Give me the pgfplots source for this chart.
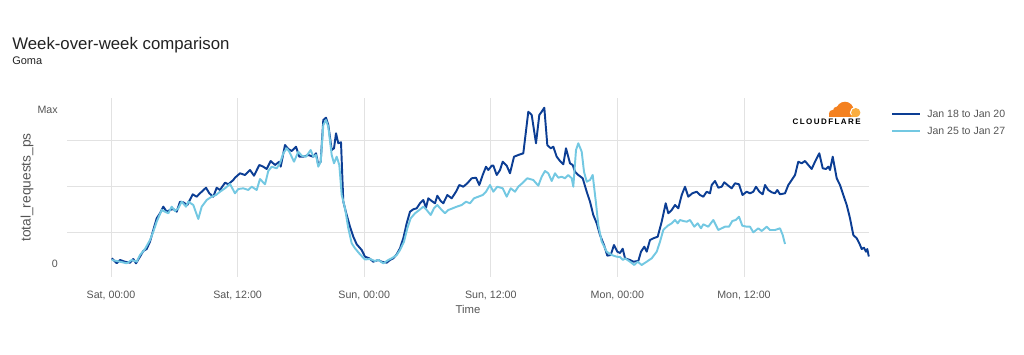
\documentclass[border=0pt]{standalone}
\usepackage{pgfplots}
\pgfplotsset{compat=1.18}
\usepackage{fontspec}
\setmainfont{Liberation Sans}
\newfontfamily\cffont[LetterSpace=18]{Liberation Sans}
\definecolor{darkline}{RGB}{12,62,148}
\definecolor{lightline}{RGB}{115,200,226}
\definecolor{gridgray}{RGB}{226,226,226}
\definecolor{labelgray}{RGB}{85,85,85}
\definecolor{titlegray}{RGB}{34,34,34}
\definecolor{cforange}{RGB}{244,129,32}
\definecolor{cflight}{RGB}{250,173,63}
\begin{document}
\begin{tikzpicture}
\useasboundingbox (0pt,0pt) rectangle (768pt,265.5pt);
\begin{axis}[
  at={(50.25pt,57.75pt)}, anchor=south west,
  scale only axis, width=601.5pt, height=134.25pt,
  xmin=67, xmax=869, ymin=-13, ymax=166,
  axis line style={draw=none}, tick style={draw=none},
  /pgf/number format/assume math mode=true,
  xtick={111,237.6,364.2,490.8,617.4,744},
  xticklabels={{Sat, 00:00},{Sat, 12:00},{Sun, 00:00},{Sun, 12:00},{Mon, 00:00},{Mon, 12:00}},
  ytick={0,154}, yticklabels={0,Max},
  extra y ticks={31.7,77.3,124}, extra y tick labels={},
  extra y tick style={ymajorgrids=true},
  xmajorgrids, ymajorgrids=false,
  grid style={color=gridgray, line width=0.7pt},
  xticklabel style={font=\fontsize{8}{9}\selectfont, text=labelgray, anchor=center, yshift=-13.5pt},
  yticklabel style={font=\fontsize{8}{9}\selectfont, text=labelgray, anchor=east, inner sep=0pt, xshift=-6.75pt},
  xlabel={Time}, ylabel={total\_requests\_ps},
  xlabel style={font=\fontsize{8.5}{10}\selectfont, text=labelgray, at={(axis description cs:0.5,0)}, anchor=center, yshift=-24pt},
  ylabel style={font=\fontsize{10.3}{12}\selectfont, text=labelgray, at={(axis description cs:-0.0499,0.5)}, anchor=center, rotate=0},
  clip=false,
]
\addplot[color=darkline, line width=1.45pt, line join=round] coordinates {
(111.7,5.7)(116.7,0.7)(120,4)(125,2.3)(130,1.3)(133.3,5)(136,0.7)(140,7.3)(143.3,13)(146.7,15)(150,22.3)(153.3,34)(156.7,45.7)(160,50.7)(163.3,57.3)(166.7,52.3)(170,54)(173.3,55)(176.7,52.3)(180,62.3)(183.3,61.7)(187.3,59)(192.7,69.7)(196.7,67.3)(200,70.7)(206,76.3)(209.3,70.7)(213.3,67.3)(216.7,76.3)(220,74)(225,81.3)(228.3,79.7)(233.3,84)(235,86.3)(240,90.7)(245,89)(250,94)(254,88.3)(259.3,99)(263.3,97.3)(266.7,95)(270.7,103)(275,99)(279.3,102.3)(280.7,97.3)(285,119)(288.3,115)(291.7,113)(296,117.3)(299.3,107.3)(303.3,107.3)(308.3,109)(313.3,107.3)(316,110.7)(318.3,99)(320.7,102.3)(323.3,144)(326,146.3)(328.3,139)(331.7,114)(334,115.7)(336,130.7)(338.3,120.7)(341,121.7)(343.3,62.3)(346.7,49)(350,37.3)(353.3,27.3)(356.7,19.7)(361.7,14)(365,7.3)(369.3,5.7)(373.3,2.3)(378.3,4)(381.7,2.3)(386.7,1.3)(390,4)(393.3,5.7)(396.7,9.7)(400,15.7)(403.3,25.7)(406.7,40.7)(410,52.3)(413.3,54.7)(416.7,55.7)(420,60.7)(423.3,64)(426,56.3)(428.3,65.7)(431.7,63)(435,60.7)(437.3,68.3)(440.7,63)(443.3,60.7)(447.3,69)(451.7,65.7)(456,72.3)(459.3,79)(463.3,77.3)(467.3,80.7)(471.7,85.7)(476,86.3)(479.3,79)(482.7,89)(486,97.3)(488.3,94)(491.7,98.3)(493.3,98.5)(496.7,89)(500,94)(502.7,102.3)(506.7,98.3)(510,90.7)(514,107.3)(518.3,109)(523.3,110.7)(528.3,152.3)(531.7,149)(536,120.7)(539.3,149)(541.7,152.3)(544.3,156.3)(547.3,119)(550.7,115.7)(553.3,117.3)(556.7,107.3)(560,103)(563.3,99.7)(566,115.7)(570,100.7)(572.7,99)(575,92.3)(578.3,89)(582.7,85.7)(586.7,72.3)(590,62.3)(593.3,49)(596.7,40.7)(600,29)(604,19)(607.3,8.3)(610.7,9)(614,19)(617.3,12.3)(620,11)(622.7,15.3)(625,5.7)(630,4)(633.3,2.3)(638.3,3)(641,12.3)(644.3,17.3)(646.7,12.3)(650,24)(653.3,25.7)(657.7,27.3)(661.7,42.3)(665.7,60.7)(668.3,50.7)(671.7,54)(675,59)(678.3,55.7)(681.7,69)(685,77.3)(688.3,67.3)(692.3,70.7)(696.7,72.3)(700,69)(703.3,67.3)(706.7,72.3)(710,70.7)(711.7,79)(715,83)(718.3,76.3)(721.7,77.3)(724.3,81.7)(728.3,78.3)(731.7,75.7)(735,80.7)(739,79.7)(742.5,69)(746.7,72.3)(750,70.7)(753.3,72.3)(756,77.3)(759.3,72.3)(762.7,69.7)(765,79)(768.3,74)(771.7,71.7)(775,70.7)(777.3,74)(780,69.7)(785,70.7)(788.3,79)(791.7,84)(795,89)(798.3,102.3)(801.7,100.7)(805,103)(808.3,99)(811.7,95)(815,102.3)(819.3,110.7)(822.7,95.7)(826,95)(828.3,97.3)(830,94)(832.7,107.3)(836.7,85.7)(840,79)(843.3,69)(846.7,59)(850,45.7)(853.3,29)(856.7,25.7)(859.3,20.7)(861.7,15)(864,16.3)(866,12.3)(867.3,15)(868.8,7.5)
};
\addplot[color=lightline, line width=1.45pt, line join=round] coordinates {
(111.7,4)(116.7,3)(120,2.3)(126.7,0.7)(131.7,4)(136.7,2.3)(140,9)(145,15)(150,24)(153.3,32.3)(156.7,42.3)(161.7,54)(165,52.3)(168.3,50.7)(171.7,57.3)(175,53)(178.3,55.7)(181.7,62.3)(186,57.3)(188.3,62.3)(193.3,59)(198.3,45)(201.7,57.3)(206.7,64)(211.7,67.3)(216,69)(220,72.3)(225,75.7)(230,80)(235,70.7)(238.3,75)(243.3,75.7)(248.3,74)(251.7,77.3)(256.7,74)(260,85)(265,79.7)(268.3,93)(271.7,97.3)(276.7,95.7)(280,100.7)(283.3,110.7)(286.7,115.7)(289.3,112.3)(294,102.3)(298.3,112.3)(301.7,108.3)(306,107.3)(310.7,114)(313.3,107.3)(316,109)(318.3,97.3)(320.7,102.3)(323.3,139)(326,144)(328.3,137.3)(331.7,109)(334,100.7)(336.7,107.3)(339.3,99)(341.7,69)(345,55.7)(348.3,35.7)(351.7,20.7)(355,15.7)(360,9.7)(365,4.5)(370,5)(375,3)(378.3,4)(383.3,0.7)(388.3,4)(391.7,5.7)(396.7,9)(400,14)(404,22.3)(407.3,35.7)(410.7,45.7)(415,50.7)(419.3,54)(423.3,57.3)(426.7,54)(430.7,49)(434,55.7)(437.3,59)(441.7,54)(445,50.7)(448.3,54)(452.7,55.7)(456.7,57.3)(461.7,59)(466,62.3)(470,60.7)(474,65.7)(478.3,67.3)(482.7,69)(486,72.3)(490,79)(493.3,72.3)(497.3,77.3)(502.7,75.7)(506.7,67.3)(510.7,75.7)(515,72.3)(518.3,77.3)(523.3,81.7)(527.3,85.7)(533.3,84)(538.3,78.3)(541.7,87.3)(545,93)(548.3,90.7)(551.7,83)(555,90.7)(558.3,86.3)(561.7,87.3)(565,85.7)(568.3,89)(571.7,85.7)(573.3,77.3)(576,114)(578.3,120.7)(581.7,112.3)(584,92.3)(586.7,82.3)(590,84)(592.7,89)(596,60.7)(598.3,39)(601.7,22.3)(606.7,12.3)(611.7,9)(616.7,7.3)(620,7)(623,4)(625,5.7)(630,2.3)(634.3,-1)(637.7,2.3)(641.7,-1)(646.7,2.3)(651.7,5.7)(656.7,12.3)(660,22.3)(663.3,34)(667.7,38.3)(671.7,40.7)(675,44)(677.7,40.7)(680,44)(683.3,43)(686.7,42.3)(690,44)(694.3,37.3)(697.7,40.7)(701,35.7)(703.3,39.7)(708.3,37.3)(713.3,44)(718.3,34)(721.7,35.7)(725,37.3)(729,37.3)(732.3,43)(735.7,44)(739,47.3)(742.3,38.3)(746.7,37.3)(750,37.3)(753.3,31.7)(758.3,35.7)(761.7,33)(766.7,37.3)(770,34)(775,34)(780,35.7)(782.7,29)(785,20)
};
\end{axis}
% title and subtitle
\node[anchor=base west, inner sep=0pt, text=titlegray, font=\fontsize{12.6}{14}\selectfont] at (9pt,228.5pt) {Week-over-week comparison};
\node[anchor=base west, inner sep=0pt, text=titlegray, font=\fontsize{8.25}{10}\selectfont] at (9pt,217.3pt) {Goma};
% legend
\draw[darkline, line width=1.45pt] (669pt,180pt) -- (690pt,180pt);
\node[anchor=west, inner sep=0pt, text=labelgray, font=\fontsize{7.9}{9}\selectfont] at (695.25pt,180pt) {Jan 18 to Jan 20};
\draw[lightline, line width=1.45pt] (669pt,167.25pt) -- (690pt,167.25pt);
\node[anchor=west, inner sep=0pt, text=labelgray, font=\fontsize{7.9}{9}\selectfont] at (695.25pt,167.25pt) {Jan 25 to Jan 27};
% logo
\begin{scope}
\clip (618pt,177.75pt) rectangle (648pt,192pt);
\fill[cforange] (621.5pt,177.75pt) rectangle (641pt,180.5pt);
\fill[cforange] (633.7pt,182.6pt) circle (6.6pt);
\fill[cforange] (624.5pt,180.3pt) circle (2.8pt);
\fill[cforange] (628.3pt,182pt) circle (3.8pt);
\fill[white] (641.5pt,181.2pt) circle (4.1pt);
\fill[cflight] (641.8pt,181pt) circle (3.5pt);
\fill[cflight] (638.5pt,177.75pt) rectangle (642pt,179.5pt);
\end{scope}
\node[anchor=center, inner sep=0pt, font=\fontsize{6}{7}\selectfont\cffont\bfseries] at (620pt,174.2pt) {CLOUDFLARE};
\end{tikzpicture}
\end{document}
